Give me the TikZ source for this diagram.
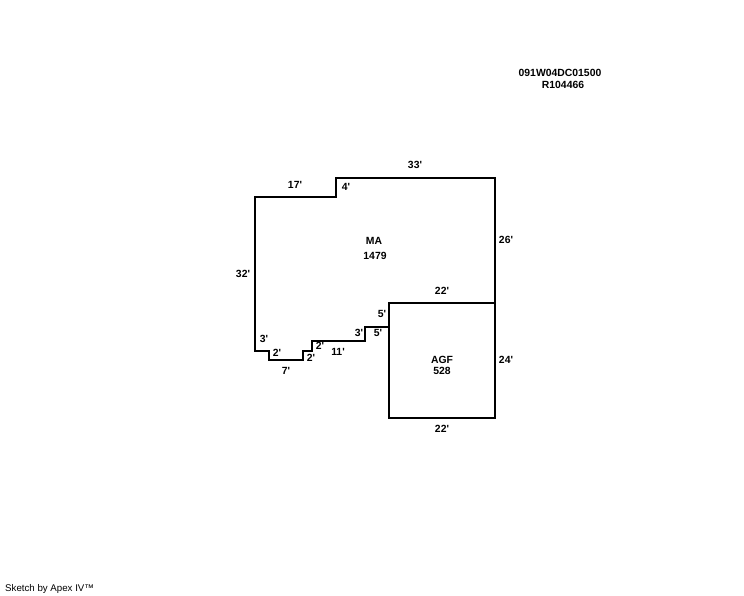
\documentclass[tikz,border=0pt]{standalone}
\usepackage{fontspec}
\setmainfont{Liberation Sans}[Ligatures=TeXOff]
\tikzset{
  wall/.style={
    black,
    line width=2.2pt,
    miter limit=10,
  },
  dimlabel/.style={
    inner sep=0pt,
    font=\fontsize{10.4}{11}\selectfont\bfseries,
  },
  footlabel/.style={
    inner sep=0pt,
    font=\fontsize{9.7}{10}\selectfont,
  }
}
\begin{document}
\begin{tikzpicture}[x=1pt,y=-1pt]
\useasboundingbox[fill=white] (0,0) rectangle (744,595);
\draw[wall] (255,197) -- (336,197) -- (336,178) -- (495,178) -- (495,303) -- (389,303) -- (389,327) -- (365,327) -- (365,341) -- (312,341) -- (312,351) -- (303,351) -- (303,360) -- (269,360) -- (269,351) -- (255,351) -- cycle;
\draw[wall] (389,303) rectangle (495,418);
\foreach \name/\xpos/\ypos/\txt in {%
  top/415/165/33',
  upper/295/185/17',
  jog/346/187/4',
  east/506/240/26',
  west/243/274/32',
  ma/374/241/MA,
  maarea/375/256/1479,
  agftop/442/291/22',
  stepa/382/314/5',
  stepb/378/333/5',
  stepc/359/333/3',
  stepd/264/339/3',
  stepe/277/353/2',
  stepf/320/346/2',
  stepg/311/358/2',
  steph/338/352/11',
  stepi/286/371/7',
  agfeast/506/360/24',
  agf/442/360/AGF,
  agfarea/442/371/528,
  agfbase/442/429/22',
  parcel/560/73/091W04DC01500,
  account/563/85/R104466%
} {
  \node[dimlabel] (\name) at (\xpos,\ypos) {\txt};
}
\node[footlabel,anchor=west] (credit) at (5,589) {Sketch by Apex IV\texttrademark};
\end{tikzpicture}
\end{document}
